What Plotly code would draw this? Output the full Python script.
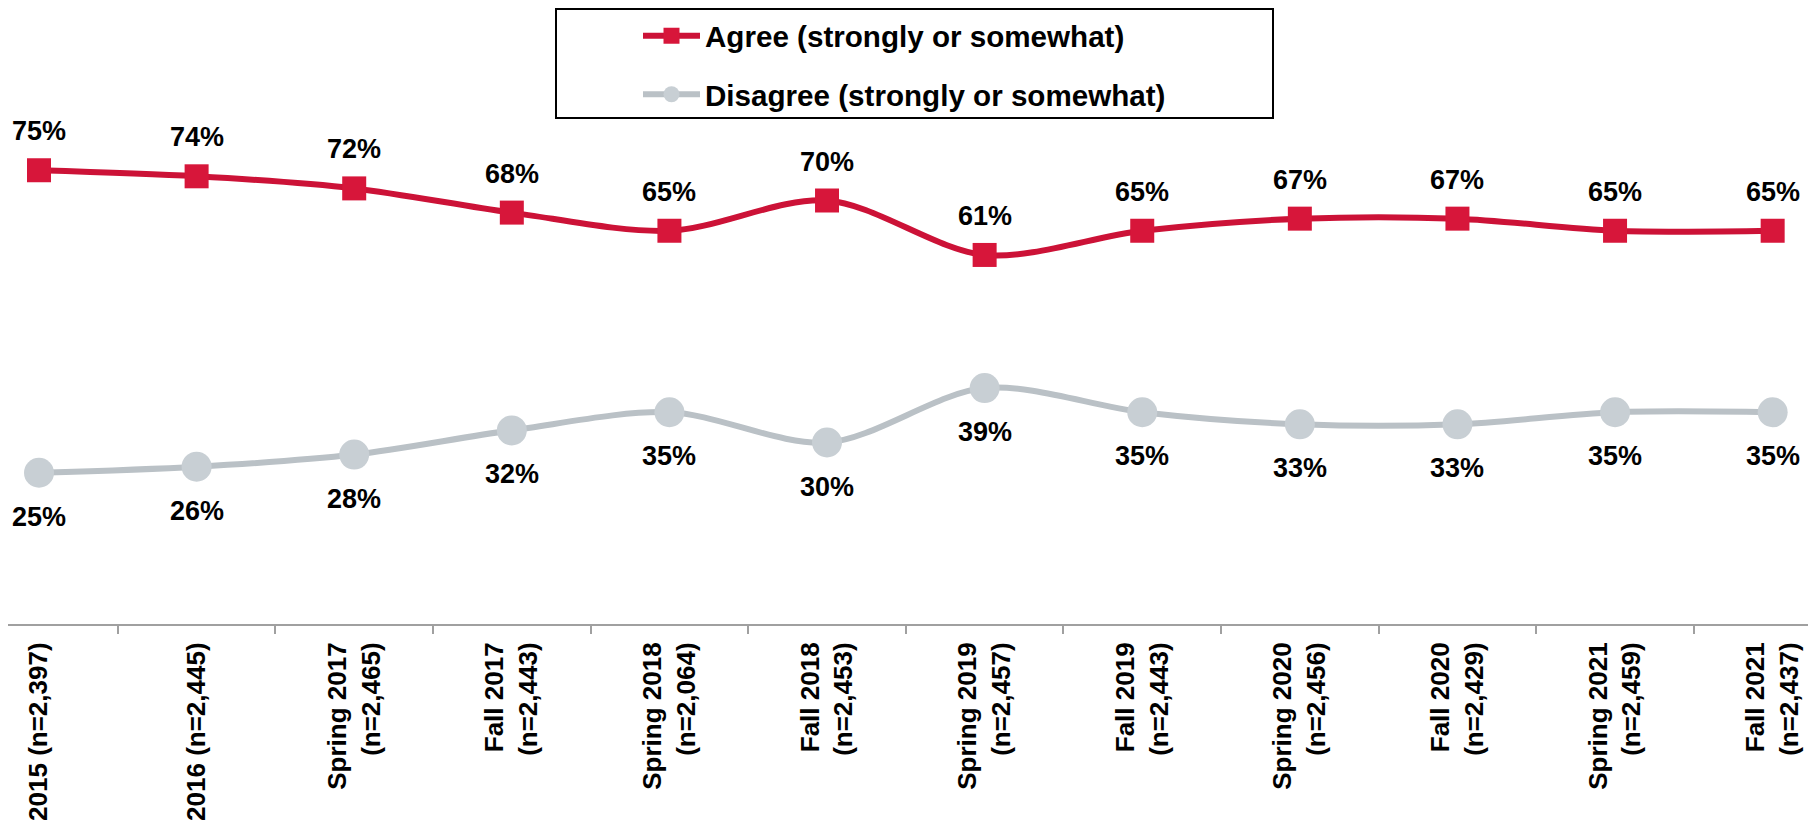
import plotly.graph_objects as go

categories = [
    "2015 (n=2,397)",
    "2016 (n=2,445)",
    "Spring 2017<br>(n=2,465)",
    "Fall 2017<br>(n=2,443)",
    "Spring 2018<br>(n=2,064)",
    "Fall 2018<br>(n=2,453)",
    "Spring 2019<br>(n=2,457)",
    "Fall 2019<br>(n=2,443)",
    "Spring 2020<br>(n=2,456)",
    "Fall 2020<br>(n=2,429)",
    "Spring 2021<br>(n=2,459)",
    "Fall 2021<br>(n=2,437)",
]
agree = [75, 74, 72, 68, 65, 70, 61, 65, 67, 67, 65, 65]
disagree = [25, 26, 28, 32, 35, 30, 39, 35, 33, 33, 35, 35]

RED_LINE = "#CC1237"
RED_MARK = "#D7163A"
GRAY_LINE = "#BAC1C6"
GRAY_MARK = "#C8CFD4"
FONT = "Liberation Sans, Arial, sans-serif"

# page has an 8px body margin, so the figure is sized to fit the viewport exactly
W, H = 1808, 816
ML, MR, MT, MB = 0, 0, 11, 200
PH = H - MT - MB

fig = go.Figure()
fig.add_trace(go.Scatter(
    x=categories, y=agree, name="<b>Agree (strongly or somewhat)</b>",
    mode="lines+markers", legendgroup="a",
    line=dict(color=RED_LINE, width=6, shape="spline", smoothing=0.9),
    marker=dict(symbol="square", size=24, color=RED_MARK),
))
fig.add_trace(go.Scatter(
    x=categories, y=disagree, name="<b>Disagree (strongly or somewhat)</b>",
    mode="lines+markers", legendgroup="d",
    line=dict(color=GRAY_LINE, width=6, shape="spline", smoothing=0.9),
    marker=dict(symbol="circle", size=30, color=GRAY_MARK),
))

annotations = []
for c, v in zip(categories, agree):
    annotations.append(dict(x=c, y=v, text=f"<b>{v}%</b>", showarrow=False, yshift=39,
                            font=dict(family=FONT, size=27, color="#000000")))
for c, v in zip(categories, disagree):
    annotations.append(dict(x=c, y=v, text=f"<b>{v}%</b>", showarrow=False, yshift=-44,
                            font=dict(family=FONT, size=27, color="#000000")))

def py(pix):
    return (H - MB - pix) / PH

fig.add_shape(type="rect", xref="paper", yref="paper",
              x0=548 / W, x1=1265 / W, y0=py(110), y1=py(1),
              line=dict(color="#000000", width=2), fillcolor="rgba(0,0,0,0)")

fig.update_layout(
    width=W, height=H,
    margin=dict(l=ML, r=MR, t=MT, b=MB, autoexpand=False),
    plot_bgcolor="white", paper_bgcolor="white",
    showlegend=True,
    legend=dict(x=630 / W, xanchor="left", y=py(2), yanchor="top",
                font=dict(family=FONT, size=29.6, color="#000000"),
                bgcolor="rgba(0,0,0,0)", borderwidth=0,
                tracegroupgap=17, itemwidth=57),
    annotations=annotations,
    xaxis=dict(
        type="category", range=[-0.1967, 11.275], automargin=False,
        showline=True, linecolor="#A0A0A0", linewidth=2,
        ticks="outside", tickson="boundaries", ticklen=8, tickcolor="#A0A0A0", tickwidth=2,
        tickangle=-90, showgrid=False, zeroline=False, ticklabelstandoff=6,
        tickfont=dict(family=FONT, size=26, color="#000000"),
        tickprefix="<b>", ticksuffix="</b>",
    ),
    yaxis=dict(range=[0, 100], visible=False, showgrid=False, zeroline=False, automargin=False),
)

fig.write_html("out.html")
